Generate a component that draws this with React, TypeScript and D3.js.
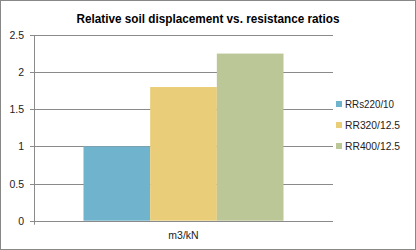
import React from "react";
import * as d3 from "d3";

const title = "Relative soil displacement vs. resistance ratios";
const category = "m3/kN";
const seriesNames = ["RRs220/10", "RR320/12.5", "RR400/12.5"];
const seriesValues = [1.0, 1.8, 2.25];
const seriesColors = ["#70B3CC", "#E9CD78", "#BCC798"];
const yTicks = [0, 0.5, 1, 1.5, 2, 2.5];

const W = 416;
const H = 250;
const plot = { left: 34, right: 333, top: 35, bottom: 220.7 };

export default function App() {
  const y = d3.scaleLinear().domain([0, 2.5]).range([plot.bottom, plot.top]);
  const xOuter = d3.scaleBand<string>().domain([category]).range([plot.left, plot.right]).paddingInner(0).paddingOuter(0.2475);
  const xInner = d3.scaleBand<string>().domain(seriesNames).range([0, xOuter.bandwidth()]);
  const font = "'Liberation Sans', Arial, sans-serif";
  return (
    <div style={{ position: "absolute", left: 0, top: 0 }}>
      <svg width={W} height={H} style={{ display: "block" }} fontFamily={font}>
        <rect x={0} y={0} width={W} height={H} fill="#fff" />
        <rect x={0.5} y={0.5} width={W - 1} height={H - 1} fill="none" stroke="#888" />
        <text x={208} y={23} textAnchor="middle" fontSize={13} fontWeight="bold" textLength={263} lengthAdjust="spacingAndGlyphs" fill="#000">
          {title}
        </text>
        {yTicks.map((t) => (
          <g key={t}>
            <line x1={plot.left - 4} x2={plot.right} y1={Math.round(y(t)) + 0.5} y2={Math.round(y(t)) + 0.5} stroke="#8a8a8a" />
            <text x={24} y={y(t) + 4} textAnchor="end" fontSize={10.5} fill="#222">
              {t}
            </text>
          </g>
        ))}
        <line x1={plot.left + 0.5} x2={plot.left + 0.5} y1={plot.top} y2={plot.bottom + 4} stroke="#8a8a8a" />
        {seriesNames.map((s, i) => (
          <rect
            key={s}
            x={(xOuter(category) ?? 0) + (xInner(s) ?? 0)}
            y={y(seriesValues[i])}
            width={xInner.bandwidth()}
            height={y(0) - y(seriesValues[i])}
            fill={seriesColors[i]}
          />
        ))}
        <line x1={plot.left} x2={plot.right} y1={Math.round(y(0)) + 0.5} y2={Math.round(y(0)) + 0.5} stroke="#8a8a8a" />
        <text x={(xOuter(category) ?? 0) + xOuter.bandwidth() / 2} y={239} textAnchor="middle" fontSize={10.5} fill="#222">
          {category}
        </text>
        {seriesNames.map((s, i) => (
          <g key={s} transform={`translate(336, ${104 + i * 21})`}>
            <rect x={0} y={-3} width={6} height={6} fill={seriesColors[i]} />
            <text x={9} y={4} fontSize={10} fill="#222" textLength={s.length > 9 ? 55 : 49} lengthAdjust="spacingAndGlyphs">
              {s}
            </text>
          </g>
        ))}
      </svg>
    </div>
  );
}
